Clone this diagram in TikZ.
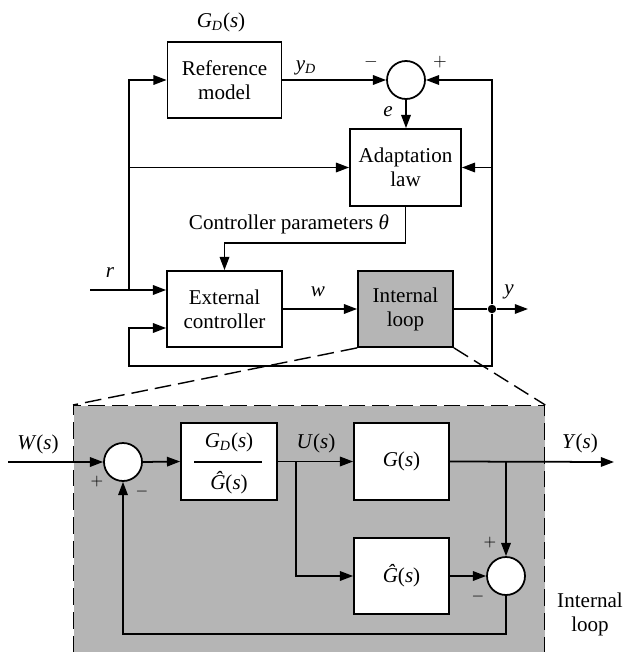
\documentclass[tikz,border=0pt]{standalone}
\usepackage{fontspec}
\setmainfont{Liberation Serif}
\usepackage{tikz}
\usetikzlibrary{positioning,calc,arrows.meta}
\definecolor{loopc}{HTML}{B5B5B5}
\newcommand{\vr}[1]{\textit{#1}}
\newcommand{\GDs}{\vr{G}\textsubscript{\vr{D}}(\vr{s})}
\newcommand{\Ghs}{\vr{\^G}(\vr{s})}

\begin{document}
\begin{tikzpicture}[x=0.02cm, y=-0.02cm, font=\fontsize{12}{13.6}\selectfont,
  line width=1pt, >={Triangle[length=7.5pt,width=5.4pt]},
  blk/.style={draw, fill=white, align=center, inner sep=0pt, minimum width=2.28cm, minimum height=1.52cm},
  sblk/.style={blk, minimum width=1.9cm, minimum height=1.54cm},
  sumc/.style={draw, fill=white, circle, inner sep=0pt, minimum size=0.76cm},
  dot/.style={fill, circle, inner sep=0pt, minimum size=0.17cm},
  sgn/.style={inner sep=1pt, font=\small},
  zoomln/.style={dash pattern=on 9.5pt off 4pt, line width=0.8pt}]
 \path[use as bounding box, clip] (0,0) rectangle (625,652);
 % outer adaptive loop
 \node[blk] (refm) at (224.5,80) {Reference\\model};
 \node (gdlbl) at (221,22) {\GDs};
 \node[sumc] (sumt) at (406,80) {};
 \node[blk, minimum width=2.22cm, minimum height=1.54cm] (adapt) at (405.5,167.5) {Adaptation\\law};
 \node[blk, minimum width=2.3cm] (ext) at (224.5,309) {External\\controller};
 \node[blk, minimum width=1.9cm, fill=loopc] (intl) at (405.5,309) {Internal\\loop};
 \node[dot] (ydot) at (492,309) {};
 \coordinate (rin) at (90,290);
 \coordinate (rj) at (129,290);
 \coordinate (yout) at (528,309);
 \draw[->] (refm.east) -- (sumt.west);
 \draw[->] (sumt.south) -- (sumt.south |- adapt.north);
 \draw[->] (rin) -- ($(ext.west)+(0,-19)$);
 \draw[->] (rj) |- (refm.west);
 \draw[->] (rj |- adapt.west) -- (adapt.west);
 \draw[->] (adapt.south) -- ++(0,36) -| (ext.north);
 \draw[->] (ext.east) -- (intl.west);
 \draw (intl.east) -- (ydot);
 \draw[->] (ydot) -- (yout);
 \draw[->] (ydot) |- (sumt.east);
 \draw[->] (ydot |- adapt.east) -- (adapt.east);
 \draw[->] (ydot) |- (129,366) |- ($(ext.west)+(0,19)$);
 \node (ydl) at (306,68) {\vr{y}\textsubscript{\vr{D}}};
 \node[sgn, font=\normalsize] (mt) at (371,62) {$-$};
 \node[sgn, font=\normalsize] (pt) at (440,62) {$+$};
 \node (el) at (388,112) {\vr{e}};
 \node (thl) at (289,224) {Controller parameters \vr{θ}};
 \node (rl) at (110,273) {\vr{r}};
 \node (wl) at (318,292) {\vr{w}};
 \node (yl) at (509,292) {\vr{y}};
 % internal loop, zoomed
 \node[draw, fill=loopc, dash pattern=on 9.5pt off 4pt, line width=0.8pt, inner sep=0pt,
   minimum width=9.42cm, minimum height=5.5cm, anchor=north west] (lp) at (73,405) {};
 \draw[zoomln] (intl.south west) -- (lp.north west);
 \draw[zoomln] (intl.south east) -- (lp.north east);
 \node[sumc] (sumw) at (123,462) {};
 \node[sblk, minimum width=1.92cm] (ctrl) at (229,461.5) {};
 \node (gdn) at (229,442) {\GDs};
 \node (ghd) at (229,483) {\Ghs};
 \draw (194,462) -- (262,462);
 \node[sblk] (plant) at (401.5,461.5) {\vr{G}(\vr{s})};
 \node[sblk, minimum height=1.52cm] (model) at (401.5,576) {\Ghs};
 \node[sumc] (sume) at (506,576) {};
 \coordinate (win) at (8,462);
 \coordinate (ubr) at (296,462);
 \coordinate (yout2) at (614,462);
 \draw[->] (win) -- (sumw.west);
 \draw[->] (sumw.east) -- (ctrl.west);
 \draw[->] (ctrl.east) -- (plant.west);
 \draw[->] (ubr) |- (model.west);
 \draw[->] (plant.east) -- (yout2);
 \draw[->] (sume.north |- plant.east) -- (sume.north);
 \draw[->] (model.east) -- (sume.west);
 \draw[->] (sume.south) -- ++(0,38) -| (sumw.south);
 \node (wsl) at (38,444) {\vr{W}(\vr{s})};
 \node (usl) at (316,443) {\vr{U}(\vr{s})};
 \node (ysl) at (580,443) {\vr{Y}(\vr{s})};
 \node[sgn] (pw) at (97,482) {$+$};
 \node[sgn] (mw) at (142,492) {$-$};
 \node[sgn] (pe) at (490,543) {$+$};
 \node[sgn] (me) at (478,597) {$-$};
 \node[align=center] (ill) at (590,614) {Internal\\loop};
\end{tikzpicture}
\end{document}
